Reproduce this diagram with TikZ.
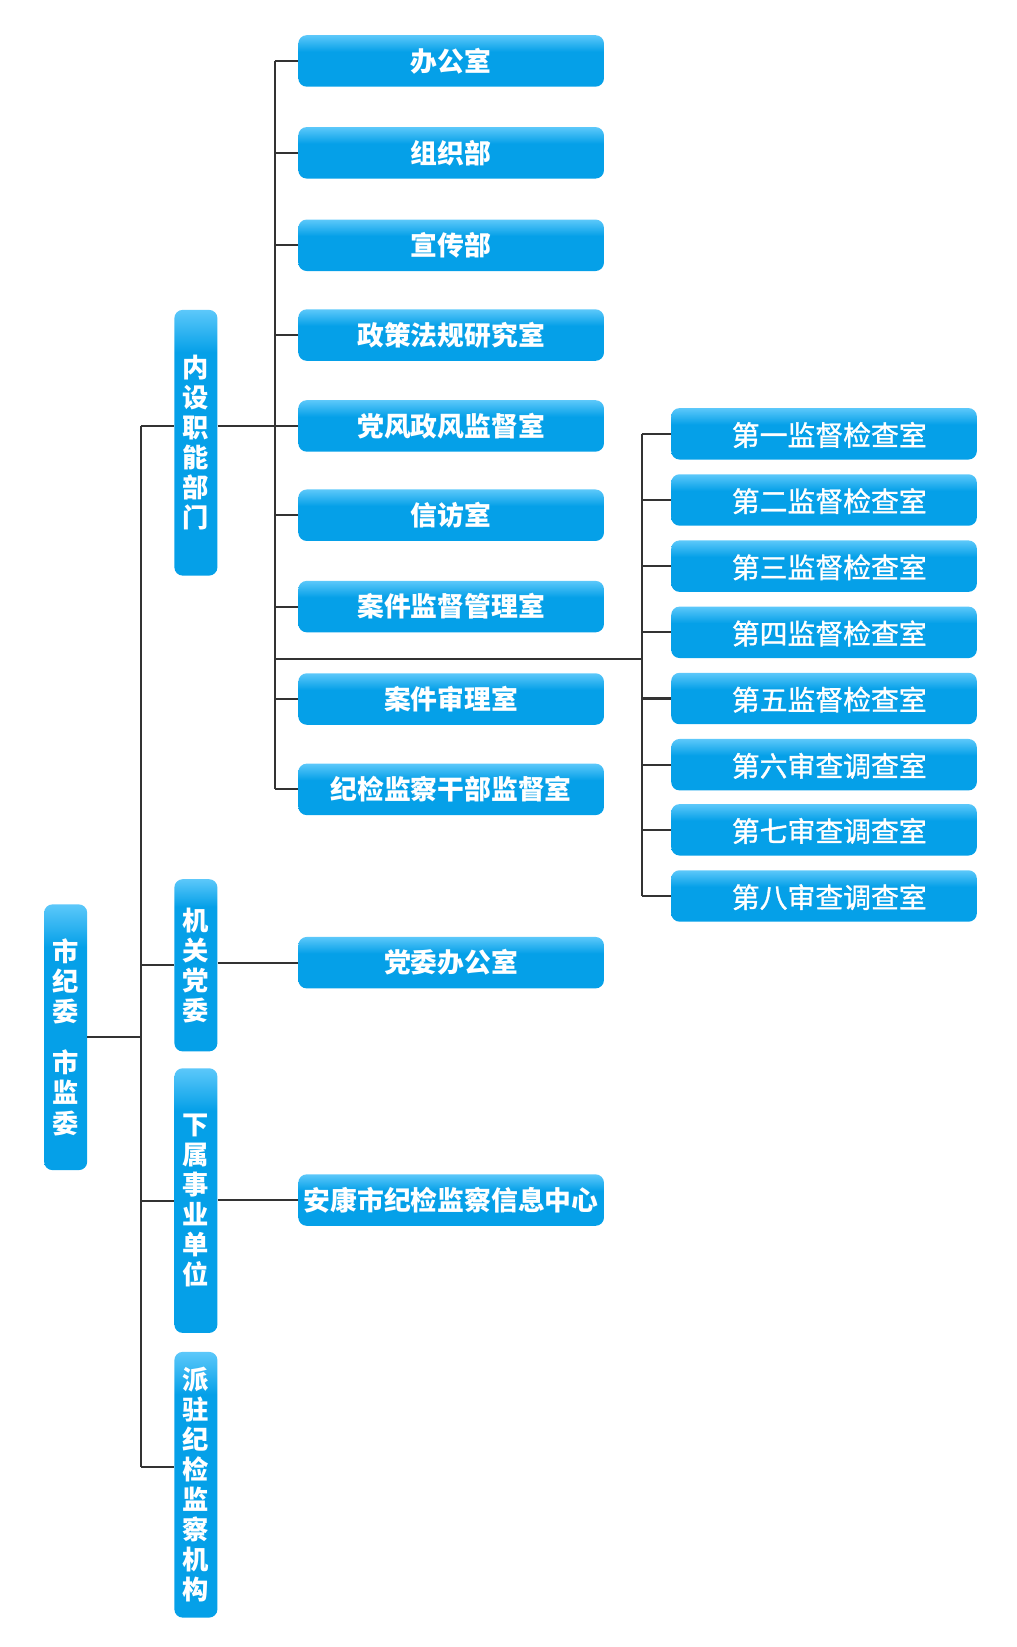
\documentclass[tikz,border=0pt]{standalone}
\usepackage{fontspec}
\newfontfamily\cjk{Noto Sans CJK SC}
\newfontfamily\cjkm[FakeBold=1.2]{Noto Sans CJK SC}
\definecolor{boxblue}{HTML}{05A0E8}
\definecolor{boxlight}{HTML}{5CC8FA}
\definecolor{linegray}{HTML}{333333}
\pgfdeclareverticalshading{hshade}{100bp}{color(0bp)=(boxblue); color(59bp)=(boxblue); color(75bp)=(boxlight); color(100bp)=(boxlight)}
\pgfdeclareverticalshading{vshade}{100bp}{color(0bp)=(boxblue); color(67bp)=(boxblue); color(75bp)=(boxlight); color(100bp)=(boxlight)}
\begin{document}
\begin{tikzpicture}[x=1pt,y=-1pt,
  blue box/.style={shading=#1, shade, draw=none, rounded corners=8pt, text=white, inner sep=0pt},
  hbox/.style={blue box=hshade, minimum width=291, minimum height=49,
    font=\cjk\bfseries\fontsize{25.5}{30}\selectfont},
  rbox/.style={blue box=hshade, minimum width=291, minimum height=49,
    font=\cjkm\fontsize{26.5}{30}\selectfont},
  vbox/.style={blue box=vshade, minimum width=41, text width=30, align=center,
    font=\cjk\bfseries\fontsize{25}{28.6}\selectfont},
  conn/.style={draw=linegray, line width=2pt}]
\useasboundingbox (0,0) rectangle (968,1568);

% root
\node[vbox, minimum height=253] (root) at (62.5,987.5) {市\\纪\\委\\[20pt]市\\监\\委};

% second level
\node[vbox, minimum height=253] (neishe) at (186.5,421.5) {内\\设\\职\\能\\部\\门};
\node[vbox, minimum height=164] (jiguan) at (186.5,919) {机\\关\\党\\委};
\node[vbox, minimum height=252] (xiashu) at (186.5,1143) {下\\属\\事\\业\\单\\位};
\node[vbox, minimum height=253] (paizhu) at (186.5,1413.5) {派\\驻\\纪\\检\\监\\察\\机\\构};

% left column
\node[hbox] (b1) at (429.5,58) {办公室};
\node[hbox] (b2) at (429.5,145.5) {组织部};
\node[hbox] (b3) at (429.5,233.5) {宣传部};
\node[hbox] (b4) at (429.5,319) {政策法规研究室};
\node[hbox] (b5) at (429.5,405.5) {党风政风监督室};
\node[hbox] (b6) at (429.5,490.5) {信访室};
\node[hbox] (b7) at (429.5,577.5) {案件监督管理室};
\node[hbox] (b8) at (429.5,665.5) {案件审理室};
\node[hbox] (b9) at (429.5,751.5) {纪检监察干部监督室};
\node[hbox] (dw) at (429.5,916.5) {党委办公室};
\node[hbox] (xx) at (429.5,1142.5) {安康市纪检监察信息中心};

% right column
\begin{scope}[every node/.append style={text depth=0pt}]
\node[rbox] (d1) at (784.5,413) {\hspace*{10pt}第一监督检查室};
\node[rbox] (d2) at (784.5,476) {\hspace*{10pt}第二监督检查室};
\node[rbox] (d3) at (784.5,539) {\hspace*{10pt}第三监督检查室};
\node[rbox] (d4) at (784.5,602) {\hspace*{10pt}第四监督检查室};
\node[rbox] (d5) at (784.5,665) {\hspace*{10pt}第五监督检查室};
\node[rbox] (d6) at (784.5,728) {\hspace*{10pt}第六审查调查室};
\node[rbox] (d7) at (784.5,790) {\hspace*{10pt}第七审查调查室};
\node[rbox] (d8) at (784.5,853) {\hspace*{10pt}第八审查调查室};
\end{scope}

% coordinates
\coordinate (tn) at (134,405.5);
\coordinate (tp) at (134,1397);
\coordinate (sx) at (262,0);
\coordinate (mid) at (262,627);
\coordinate (rx) at (611,0);

% trunk
\draw[conn] (root.east) -- (root.east -| tn);
\draw[conn] (tn) -- (tp);
\draw[conn] (tn) -- (tn -| neishe.west);
\draw[conn] (jiguan.west -| tn) -- (jiguan.west);
\draw[conn] (xiashu.west -| tn) -- (xiashu.west);
\draw[conn] (tp) -- (tp -| paizhu.west);

% inner departments
\draw[conn] (tn -| neishe.east) -- (tn -| sx);
\draw[conn] (b1.west -| sx) -- (b9.west -| sx);
\foreach \b in {b1,b2,b3,b4,b5,b6,b7,b8,b9}
  \draw[conn] (\b.west -| sx) -- (\b.west);

% other branches
\draw[conn] (dw.west -| jiguan.east) -- (dw.west);
\draw[conn] (xx.west -| xiashu.east) -- (xx.west);

% right column
\draw[conn] (mid) -- (mid -| rx);
\draw[conn] (d1.west -| rx) -- (d8.west -| rx);
\foreach \d in {d1,d2,d3,d4,d5,d6,d7,d8}
  \draw[conn] (\d.west -| rx) -- (\d.west);
\end{tikzpicture}
\end{document}
